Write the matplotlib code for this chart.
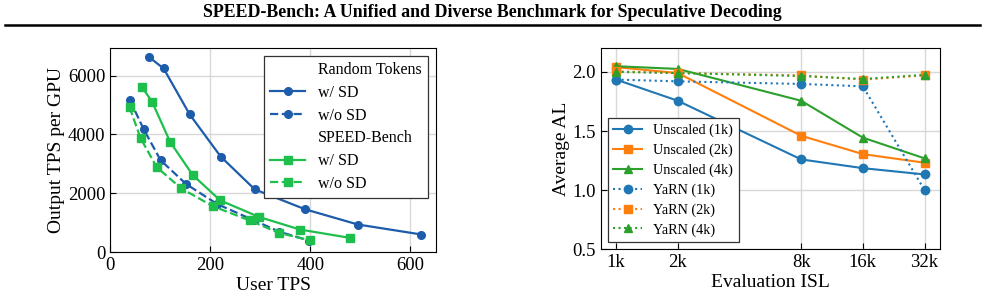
import numpy as np
import matplotlib
matplotlib.use("Agg")
import matplotlib.pyplot as plt
from matplotlib.lines import Line2D

plt.rcParams['font.family'] = ['Liberation Serif', 'DejaVu Serif']
plt.rcParams['mathtext.fontset'] = 'stix'

# left panel: throughput curves
rt_sd_x = [78, 107, 159, 221, 289, 390, 495, 622]
rt_sd_y = [6625, 6240, 4680, 3245, 2130, 1450, 935, 595]
rt_nosd_x = [40, 67, 101, 152, 214, 287, 338, 398]
rt_nosd_y = [5157, 4180, 3120, 2310, 1630, 1080, 690, 385]
sb_sd_x = [63, 84, 120, 165, 220, 297, 379, 480]
sb_sd_y = [5625, 5110, 3745, 2620, 1755, 1195, 765, 478]
sb_nosd_x = [39, 61, 93, 142, 205, 279, 337, 399]
sb_nosd_y = [4918, 3870, 2890, 2165, 1560, 1072, 650, 400]

# right panel: acceptance length vs eval ISL
isl = [1, 2, 8, 16, 32]
isl_labels = ['1k', '2k', '8k', '16k', '32k']
unscaled_1k = [1.935, 1.756, 1.26, 1.186, 1.133]
unscaled_2k = [2.04, 1.99, 1.46, 1.305, 1.232]
unscaled_4k = [2.048, 2.025, 1.756, 1.444, 1.269]
yarn_1k = [1.935, 1.92, 1.898, 1.878, 1.0]
yarn_2k = [2.005, 1.99, 1.97, 1.935, 1.97]
yarn_4k = [2.0, 1.99, 1.965, 1.94, 1.975]

blue = '#1c5cab'
green = '#1fbf4d'

fig = plt.figure(figsize=(9.85, 2.97), dpi=100)
fig.text(0.5, 0.958, 'SPEED-Bench: A Unified and Diverse Benchmark for Speculative Decoding',
         ha='center', va='center', fontsize=12.9, fontweight='bold')
fig.add_artist(Line2D([0.005, 0.995], [0.915, 0.915], color='black', lw=1.8,
                      transform=fig.transFigure))

ax1 = fig.add_axes([0.1117, 0.1515, 0.331, 0.687])
ax1.plot(rt_sd_x, rt_sd_y, '-o', color=blue, lw=1.6, ms=5.5, label='w/ SD')
ax1.plot(rt_nosd_x, rt_nosd_y, '--o', color=blue, lw=1.6, ms=5.5, label='w/o SD')
ax1.plot(sb_sd_x, sb_sd_y, '-s', color=green, lw=1.6, ms=5.5, label='w/ SD')
ax1.plot(sb_nosd_x, sb_nosd_y, '--s', color=green, lw=1.6, ms=5.5, label='w/o SD')
ax1.set_xlim(left=0)
ax1.set_ylim(bottom=0)
ax1.set_xticks([0, 200, 400, 600])
ax1.set_yticks([0, 2000, 4000, 6000])
ax1.set_xlabel('User TPS', fontsize=14, labelpad=2)
ax1.set_ylabel('Output TPS per GPU', fontsize=14, labelpad=2)
ax1.grid(True, color='#d8d8d8', lw=1)
ax1.set_axisbelow(True)
ax1.tick_params(direction='in', labelsize=13.5, length=4.5)

h = ax1.get_legend_handles_labels()[0]
blank = Line2D([], [], linestyle='none')
leg1 = ax1.legend([blank, h[0], h[1], blank, h[2], h[3]],
                  ['Random Tokens', 'w/ SD', 'w/o SD', 'SPEED-Bench', 'w/ SD', 'w/o SD'],
                  loc='upper right', fontsize=11.5, fancybox=False, edgecolor='#333333',
                  framealpha=1, borderaxespad=0.5, handlelength=2.2, labelspacing=0.42)
leg1.get_frame().set_linewidth(0.9)

ax2 = fig.add_axes([0.6098, 0.1606, 0.3445, 0.677])
c = plt.get_cmap('tab10').colors
ax2.plot(isl, unscaled_1k, '-o', color=c[0], lw=1.5, ms=6, label='Unscaled (1k)')
ax2.plot(isl, unscaled_2k, '-s', color=c[1], lw=1.5, ms=6, label='Unscaled (2k)')
ax2.plot(isl, unscaled_4k, '-^', color=c[2], lw=1.5, ms=6, label='Unscaled (4k)')
ax2.plot(isl, yarn_1k, ':o', color=c[0], lw=1.5, ms=6, label='YaRN (1k)')
ax2.plot(isl, yarn_2k, ':s', color=c[1], lw=1.5, ms=6, label='YaRN (2k)')
ax2.plot(isl, yarn_4k, ':^', color=c[2], lw=1.5, ms=6, label='YaRN (4k)')
ax2.set_xscale('log', base=2)
ax2.set_xticks(isl)
ax2.set_xticklabels(isl_labels)
ax2.minorticks_off()
ax2.set_ylim(0.5, 2.2)
ax2.set_yticks([0.5, 1.0, 1.5, 2.0])
ax2.set_xlabel('Evaluation ISL', fontsize=14, labelpad=2)
ax2.set_ylabel('Average AL', fontsize=14, labelpad=2)
ax2.grid(True, color='#d8d8d8', lw=1)
ax2.set_axisbelow(True)
ax2.tick_params(direction='in', labelsize=13.5, length=4.5)
leg2 = ax2.legend(loc='lower left', fontsize=10.2, fancybox=False, edgecolor='#333333',
                  framealpha=1, borderaxespad=0.5, handlelength=2.0, labelspacing=0.45)
leg2.get_frame().set_linewidth(0.9)

fig.savefig('out.png', dpi=100)
